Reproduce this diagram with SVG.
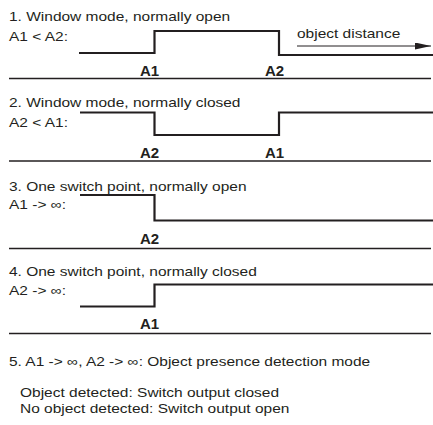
<svg xmlns="http://www.w3.org/2000/svg" width="433" height="425" viewBox="0 0 433 425">
<defs>
<style>
text{font-family:"Liberation Sans",Arial,sans-serif;fill:#231f20}
.t{font-size:12.6px}
.b{font-size:15px;font-weight:bold}
.sig{fill:none;stroke:#231f20;stroke-width:2.2}
.sep{stroke:#231f20;stroke-width:1.3}
.ar{stroke:#231f20;stroke-width:1}
</style>
<marker id="ah" viewBox="0 0 16 7" refX="16" refY="3.5" markerWidth="16" markerHeight="7" markerUnits="userSpaceOnUse" orient="auto">
<path d="M0,0 L16,3.5 L0,7 Z" fill="#231f20"/>
</marker>
</defs>
<g id="mode1">
<text class="t" transform="translate(9,20.5) scale(1.23,1)">1. Window mode, normally open</text>
<text class="t" transform="translate(9,40.7) scale(1.23,1)">A1 &lt; A2:</text>
<polyline class="sig" points="79,53 154.5,53 154.5,31 279,31 279,55 433,55"/>
<text class="t" transform="translate(297,38) scale(1.23,1)">object distance</text>
<text class="b" x="140" y="75.5">A1</text>
<text class="b" x="265" y="75.5">A2</text>
</g>
<g id="mode2">
<text class="t" transform="translate(9,107) scale(1.23,1)">2. Window mode, normally closed</text>
<text class="t" transform="translate(9,127) scale(1.23,1)">A2 &lt; A1:</text>
<polyline class="sig" points="80,112.5 154.5,112.5 154.5,135 279,135 279,112.5 433,112.5"/>
<text class="b" x="140" y="158">A2</text>
<text class="b" x="265" y="158">A1</text>
</g>
<g id="mode3">
<text class="t" transform="translate(9,191) scale(1.23,1)">3. One switch point, normally open</text>
<text class="t" transform="translate(9,209) scale(1.23,1)">A1 -&gt; ∞:</text>
<polyline class="sig" points="80,195 154.5,195 154.5,220.5 433,220.5"/>
<text class="b" x="140" y="244">A2</text>
</g>
<g id="mode4">
<text class="t" transform="translate(9,276) scale(1.23,1)">4. One switch point, normally closed</text>
<text class="t" transform="translate(9,295) scale(1.23,1)">A2 -&gt; ∞:</text>
<polyline class="sig" points="80,306.5 154.5,306.5 154.5,284.5 433,284.5"/>
<text class="b" x="140" y="329">A1</text>
</g>
<g id="mode5">
<text class="t" transform="translate(9,366) scale(1.23,1)">5. A1 -&gt; ∞, A2 -&gt; ∞: Object presence detection mode</text>
<text class="t" transform="translate(20,396.5) scale(1.23,1)">Object detected: Switch output closed</text>
<text class="t" transform="translate(20,412.5) scale(1.23,1)">No object detected: Switch output open</text>
</g>
<g id="connectors">
<line class="ar" x1="297" y1="46" x2="431" y2="46" marker-end="url(#ah)"/>
<line class="sep" x1="9" y1="78.5" x2="431" y2="78.5"/>
<line class="sep" x1="9" y1="161" x2="431" y2="161"/>
<line class="sep" x1="9" y1="248.5" x2="431" y2="248.5"/>
<line class="sep" x1="9" y1="333.5" x2="431" y2="333.5"/>
</g>
</svg>
